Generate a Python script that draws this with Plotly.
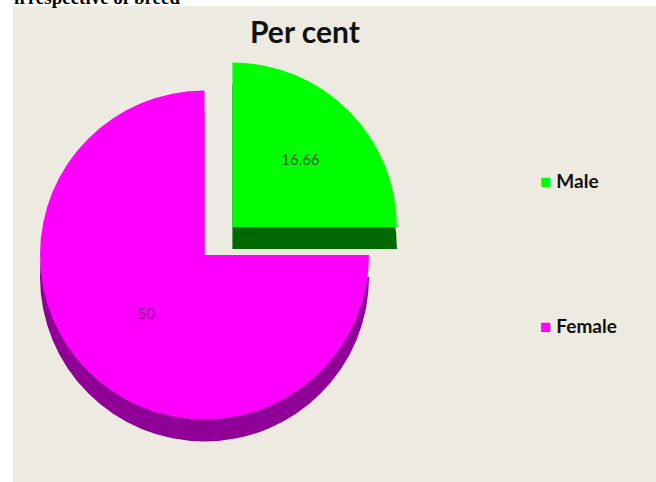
import plotly.graph_objects as go

labels = ["Male", "Female"]
values = [16.66, 50]
top_colors = ["#00FF00", "#FF00FF"]
side_colors = ["#006A00", "#8E0096"]
label_colors = ["#2E5E2E", "#8A1F8A"]
pulls = [0.24, 0]

W, H = 656, 482
half = 204.0           # half-size of pie domain in px
cx, cy = 204.5, 255.0  # top face centre in px
depth = 22.0

def dom(cx, cy):
    return dict(x=[(cx - half) / W, (cx + half) / W],
                y=[1 - (cy + half) / H, 1 - (cy - half) / H])

fig = go.Figure()
# extruded side (darker copy, shifted down)
fig.add_trace(go.Pie(
    labels=labels, values=values, sort=False, direction="clockwise", rotation=0,
    pull=pulls, marker=dict(colors=side_colors, line=dict(width=0)),
    textinfo="none", hoverinfo="skip", showlegend=False,
    domain=dom(cx, cy + depth)))
# top face
fig.add_trace(go.Pie(
    labels=labels, values=values, sort=False, direction="clockwise", rotation=0,
    pull=pulls, marker=dict(colors=top_colors, line=dict(width=0)),
    textinfo="value", texttemplate="%{value}", textposition="inside",
    insidetextorientation="horizontal",
    insidetextfont=dict(family="Lato, sans-serif", size=15, color=label_colors),
    showlegend=False, domain=dom(cx, cy)))

fig.add_shape(type="rect", xref="paper", yref="paper",
              x0=13 / W, x1=1, y0=0, y1=1 - 6 / H,
              fillcolor="#EDEBE1", line=dict(width=0), layer="below")

fig.add_annotation(text="<b>Per cent</b>", xref="paper", yref="paper",
                   x=305 / W, y=1 - 31 / H, xanchor="center", yanchor="middle",
                   showarrow=False,
                   font=dict(family="Lato, sans-serif", size=30, color="#111111"))
fig.add_annotation(text="<b>irrespective of breed</b>", xref="paper", yref="paper",
                   x=12 / W, y=1 + 3 / H, xanchor="left", yanchor="middle",
                   showarrow=False,
                   font=dict(family="Liberation Serif, serif", size=19, color="#000000"))

# legend entries
legend_y = [180, 325]
for lab, col, yy in zip(labels, top_colors, legend_y):
    fig.add_annotation(
        text=f"<span style='color:{col}'>■</span> <b>{lab}</b>",
        xref="paper", yref="paper", x=538 / W, y=1 - yy / H,
        xanchor="left", yanchor="middle", showarrow=False,
        font=dict(family="Lato, sans-serif", size=19, color="#111111"))

fig.update_layout(width=W, height=H, margin=dict(l=0, r=0, t=0, b=0),
                  paper_bgcolor="#FFFFFF", showlegend=False)
fig.write_html("out.html")
